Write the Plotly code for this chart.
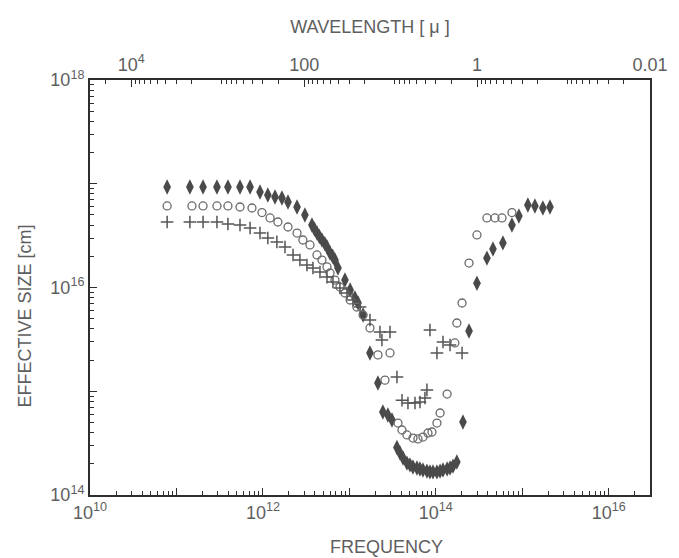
import math
import plotly.graph_objects as go

# ---- data ----
diamond_freq = [7.8e10, 1.43e11, 2.03e11, 2.94e11, 3.94e11, 5.43e11, 7.1e11, 9.25e11, 1.14e12, 1.38e12,
                1.66e12, 1.95e12, 2.48e12, 3.06e12, 3.69e12, 3.95e12, 4.22e12, 4.5e12, 4.82e12, 5.2e12,
                5.51e12, 5.97e12, 6.4e12, 6.81e12, 7.38e12, 8.89e12, 1.02e13, 1.16e13, 1.26e13, 1.44e13,
                1.73e13, 2.14e13, 2.44e13, 2.79e13, 3.11e13, 3.55e13, 3.85e13, 4.17e13, 4.63e13, 5.02e13,
                5.44e13, 6.05e13, 6.55e13, 7.1e13, 7.89e13, 8.55e13, 9.27e13, 1.03e14, 1.12e14, 1.21e14,
                1.35e14, 1.46e14, 1.58e14, 1.75e14, 2.06e14, 2.42e14, 2.99e14, 3.9e14, 4.58e14, 5.97e14,
                7.59e14, 9.14e14, 1.16e15, 1.4e15, 1.73e15, 2.09e15]
diamond_size = [9.3e16, 9.3e16, 9.3e16, 9.3e16, 9.3e16, 9.3e16, 9.3e16, 8.32e16, 7.79e16, 7.45e16,
                7.29e16, 6.67e16, 5.97e16, 5.0e16, 4.0e16, 3.65e16, 3.35e16, 3.1e16, 2.87e16, 2.65e16,
                2.46e16, 2.15e16, 2.0e16, 1.84e16, 1.54e16, 1.18e16, 9.46e15, 7.92e15, 7.09e15, 5.43e15,
                2.34e15, 1.2e15, 6.3e14, 5.9e14, 5.28e14, 2.87e14, 2.54e14, 2.27e14, 2.03e14, 1.95e14,
                1.86e14, 1.82e14, 1.78e14, 1.74e14, 1.7e14, 1.67e14, 1.67e14, 1.67e14, 1.7e14, 1.74e14,
                1.78e14, 1.82e14, 1.9e14, 2.08e14, 5.06e14, 3.81e15, 1.1e16, 1.92e16, 2.35e16, 2.69e16,
                4.0e16, 4.89e16, 6.24e16, 6.11e16, 5.84e16, 5.97e16]

circle_freq = [7.8e10, 1.51e11, 2.03e11, 2.94e11, 3.94e11, 5.43e11, 7.47e11, 9.75e11, 1.21e12, 1.49e12,
               1.95e12, 2.48e12, 2.9e12, 3.5e12, 4.22e12, 4.82e12, 5.51e12, 5.97e12, 6.81e12, 7.78e12,
               8.89e12, 1.02e13, 1.22e13, 1.44e13, 1.73e13, 2.14e13, 2.95e13, 2.58e13, 3.65e13, 4.06e13,
               4.63e13, 5.44e13, 6.21e13, 7.1e13, 8.11e13, 9.02e13, 1.03e14, 1.12e14, 1.35e14, 1.66e14,
               1.75e14, 2.01e14, 2.42e14, 2.99e14, 3.9e14, 4.83e14, 5.82e14, 7.59e14]
circle_size = [6.11e16, 6.11e16, 6.11e16, 6.11e16, 6.11e16, 5.97e16, 5.84e16, 5.28e16, 4.68e16, 4.28e16,
               3.83e16, 3.35e16, 2.87e16, 2.57e16, 2.06e16, 1.84e16, 1.58e16, 1.38e16, 1.18e16, 1.01e16,
               8.85e15, 7.58e15, 6.49e15, 5.43e15, 4.07e15, 2.24e15, 2.34e15, 1.28e15, 4.94e14, 4.23e14,
               3.79e14, 3.54e14, 3.47e14, 3.62e14, 3.96e14, 4.05e14, 4.94e14, 6.17e14, 9.4e14, 2.92e15,
               4.55e15, 7.09e15, 1.72e16, 3.21e16, 4.68e16, 4.68e16, 4.68e16, 5.28e16]

plus_freq = [7.8e10, 1.43e11, 2.03e11, 2.94e11, 3.94e11, 5.43e11, 7.1e11, 9.25e11, 1.14e12, 1.45e12,
             1.8e12, 2.23e12, 2.68e12, 3.23e12, 3.79e12, 4.57e12, 5.51e12, 6.46e12, 7.78e12, 9.38e12,
             1.1e13, 1.33e13, 1.73e13, 2.26e13, 2.95e13, 2.38e13, 3.55e13, 4.06e13, 4.76e13, 5.74e13,
             6.55e13, 7.48e13, 7.89e13, 8.55e13, 1.03e14, 1.21e14, 1.46e14, 2.01e14]
plus_size = [4.28e16, 4.28e16, 4.28e16, 4.28e16, 4.09e16, 4.0e16, 3.74e16, 3.35e16, 3.0e16, 2.75e16,
             2.46e16, 2.06e16, 1.84e16, 1.65e16, 1.54e16, 1.41e16, 1.26e16, 1.13e16, 9.9e15, 8.85e15,
             7.58e15, 6.49e15, 4.86e15, 3.73e15, 3.73e15, 3.12e15, 1.37e15, 8.2e14, 7.7e14, 7.7e14,
             7.88e14, 8.6e14, 1.03e15, 3.89e15, 2.34e15, 2.98e15, 2.79e15, 2.34e15]

freq_label_exp = [10, 12, 14, 16]
freq_label_text = ["10<sup>10</sup>", "10<sup>12</sup>", "10<sup>14</sup>", "10<sup>16</sup>"]
freq_unlabeled_exp = [11, 13, 15]
size_label_exp = [14, 16, 18]
size_label_text = ["10<sup>14</sup>", "10<sup>16</sup>", "10<sup>18</sup>"]
size_unlabeled_exp = [15, 17]
wave_tick_vals = [1e4, 100, 1, 0.01]
wave_tick_text = ["10<sup>4</sup>", "100", "1", "0.01"]
wave_unlabeled_vals = [1e3, 10, 0.1]

C_MICRON = 3e14  # speed of light in micron/s
FREQ_MIN, FREQ_MAX = 1e10, 3e16
SIZE_MIN, SIZE_MAX = 1e14, 1e18


def minor_vals(lo, hi):
    out = []
    for e in range(lo, hi + 1):
        for m in range(2, 10):
            out.append(m * 10 ** e)
    return out


TXT = "#5e5e5e"
AX = "#2e2e2e"
FONT = "Liberation Sans"
TICKFONT = dict(size=18, color=TXT, family=FONT)
TITLEFONT = dict(size=18, color=TXT, family=FONT)

XR = [math.log10(FREQ_MIN), math.log10(FREQ_MAX)]
WR = [math.log10(C_MICRON / FREQ_MIN), math.log10(C_MICRON / FREQ_MAX)]
YR = [math.log10(SIZE_MIN), math.log10(SIZE_MAX)]

fig = go.Figure()
fig.add_trace(go.Scatter(x=diamond_freq, y=diamond_size, mode="markers",
                         marker=dict(symbol="diamond-tall", size=11, color="#4a4a4a",
                                     line=dict(width=0)), showlegend=False))
fig.add_trace(go.Scatter(x=circle_freq, y=circle_size, mode="markers",
                         marker=dict(symbol="circle-open", size=8, color="#6a6a6a",
                                     line=dict(width=1.3)), showlegend=False))
fig.add_trace(go.Scatter(x=plus_freq, y=plus_size, mode="markers",
                         marker=dict(symbol="cross-thin", size=9, color="#555555",
                                     line=dict(width=1.5, color="#555555")), showlegend=False))
# invisible carriers for the extra axes
fig.add_trace(go.Scatter(x=[C_MICRON / FREQ_MIN, C_MICRON / FREQ_MAX], y=[1e15, 1e15],
                         xaxis="x2", mode="markers", marker=dict(opacity=0, size=1),
                         hoverinfo="skip", showlegend=False))
fig.add_trace(go.Scatter(x=[FREQ_MIN, FREQ_MAX], y=[SIZE_MIN, SIZE_MAX],
                         xaxis="x3", yaxis="y2", mode="markers", marker=dict(opacity=0, size=1),
                         hoverinfo="skip", showlegend=False))

common_tick = dict(ticks="inside", ticklen=7, tickwidth=1.4, tickcolor=AX,
                   showgrid=False, zeroline=False)

fig.update_layout(
    width=679, height=558,
    margin=dict(l=90, r=29, t=80, b=63),
    paper_bgcolor="white", plot_bgcolor="white",
    font=dict(family=FONT, size=18, color=TXT),
    xaxis=dict(type="log", range=XR, tickmode="array",
               tickvals=[10 ** e for e in freq_label_exp], ticktext=freq_label_text,
               minor=dict(tickmode="array", tickvals=minor_vals(10, 16), ticks="inside",
                          ticklen=4, tickcolor=AX, tickwidth=1.1),
               showline=True, linecolor=AX, linewidth=2, tickfont=TICKFONT, **common_tick),
    xaxis2=dict(type="log", overlaying="x", side="top", range=WR, tickmode="array",
                tickvals=wave_tick_vals, ticktext=wave_tick_text,
                minor=dict(tickmode="array", tickvals=minor_vals(-3, 4), ticks="inside",
                           ticklen=4, tickcolor=AX, tickwidth=1.1),
                showline=True, linecolor=AX, linewidth=2, tickfont=TICKFONT,
                title=dict(text="WAVELENGTH [ μ ]", font=TITLEFONT, standoff=14),
                **common_tick),
    xaxis3=dict(type="log", overlaying="x", side="bottom", anchor="y", range=XR,
                tickmode="array", tickvals=[10 ** e for e in freq_unlabeled_exp],
                showticklabels=False, showline=False, **common_tick),
    yaxis=dict(type="log", range=YR, tickmode="array",
               tickvals=[10 ** e for e in size_label_exp], ticktext=size_label_text,
               minor=dict(tickmode="array", tickvals=minor_vals(14, 17), ticks="inside",
                          ticklen=4, tickcolor=AX, tickwidth=1.1),
               showline=True, linecolor=AX, linewidth=2, mirror=True, tickfont=TICKFONT,
               **common_tick),
    yaxis2=dict(type="log", overlaying="y", side="left", anchor="x", range=YR,
                tickmode="array", tickvals=[10 ** e for e in size_unlabeled_exp],
                showticklabels=False, showline=False, **common_tick),
    annotations=[
        dict(text="EFFECTIVE SIZE [cm]", xref="paper", yref="paper", x=-0.116, y=0.43,
             textangle=-90, showarrow=False, font=TITLEFONT, xanchor="center", yanchor="middle"),
        dict(text="FREQUENCY", xref="paper", yref="paper", x=0.53, y=-0.125,
             showarrow=False, font=TITLEFONT, xanchor="center", yanchor="middle"),
    ],
)

fig.write_html("out.html")
